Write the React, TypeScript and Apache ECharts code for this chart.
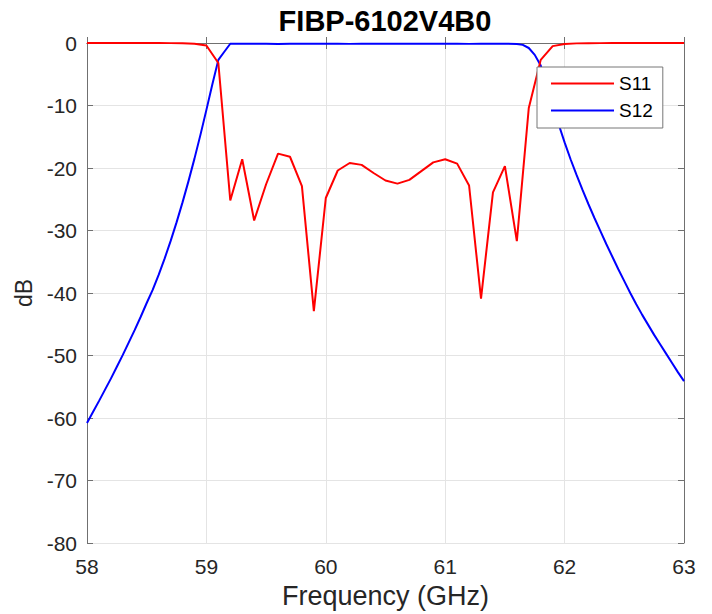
import React, { useEffect, useRef } from "react";
import * as echarts from "echarts";

// S11 sampled every 0.1 GHz
const s11Freq = [
  58.0, 58.1, 58.2, 58.3, 58.4, 58.5, 58.6, 58.7, 58.8, 58.9,
  59.0, 59.1, 59.2, 59.3, 59.4, 59.5, 59.6, 59.7, 59.8, 59.9,
  60.0, 60.1, 60.2, 60.3, 60.4, 60.5, 60.6, 60.7, 60.8, 60.9,
  61.0, 61.1, 61.2, 61.3, 61.4, 61.5, 61.6, 61.7, 61.8, 61.9,
  62.0, 62.1, 62.2, 62.3, 62.4, 62.5, 62.6, 62.7, 62.8, 62.9, 63.0,
];

const s11 = [
  0, 0, 0, 0, 0, 0, -0.01, -0.02, -0.05, -0.12,
  -0.4, -3.2, -25.2, -18.6, -28.4, -22.6, -17.7, -18.2, -22.9, -42.9,
  -24.8, -20.4, -19.2, -19.5, -20.8, -22.0, -22.5, -21.9, -20.5, -19.1,
  -18.6, -19.3, -22.8, -40.9, -23.9, -19.7, -31.7, -10.4, -2.7, -0.5,
  -0.15, -0.06, -0.03, -0.02, -0.01, 0, 0, 0, 0, 0, 0,
];

// S12 sampled more finely on the skirts
const s12Freq = [
  58.0, 58.05, 58.1, 58.15, 58.2, 58.25, 58.3, 58.35, 58.4, 58.45,
  58.5, 58.55, 58.6, 58.65, 58.7, 58.75, 58.8, 58.85, 58.9, 58.95,
  59.0, 59.05, 59.1, 59.15, 59.2,
  59.3, 59.4, 59.5, 59.6, 59.7, 59.8, 59.9, 60.0, 60.1, 60.2, 60.3, 60.4,
  60.5, 60.6, 60.7, 60.8, 60.9, 61.0, 61.1, 61.2, 61.3, 61.4, 61.5, 61.6,
  61.65, 61.7, 61.75, 61.8, 61.85, 61.9, 61.95, 62.0, 62.05, 62.1,
  62.15, 62.2, 62.25, 62.3, 62.35, 62.4, 62.45, 62.5, 62.55, 62.6,
  62.65, 62.7, 62.75, 62.8, 62.85, 62.9, 62.95, 63.0,
];

const s12 = [
  -60.8, -59.05, -57.3, -55.5, -53.7, -51.8, -49.9, -47.9, -45.9, -43.8,
  -41.6, -39.5, -37.1, -34.5, -31.7, -28.7, -25.5, -22.1, -18.5, -14.7,
  -10.7, -6.6, -2.7, -1.4, -0.12,
  -0.12, -0.1, -0.12, -0.15, -0.12, -0.1, -0.12, -0.1, -0.12, -0.14, -0.12, -0.1,
  -0.12, -0.13, -0.12, -0.1, -0.12, -0.1, -0.12, -0.14, -0.12, -0.1, -0.1, -0.15,
  -0.3, -0.8, -1.9, -3.6, -6.8, -10.0, -13.0, -15.9, -18.6, -21.1,
  -23.5, -25.8, -28.0, -30.1, -32.2, -34.2, -36.2, -38.1, -40.0, -41.8,
  -43.5, -45.1, -46.7, -48.2, -49.7, -51.2, -52.7, -54.1,
];

const seriesNames = ["S11", "S12"];
const titleText = "FIBP-6102V4B0";
const xName = "Frequency (GHz)";
const yName = "dB";

const FONT = "'Liberation Sans', Arial, Helvetica, sans-serif";

export default function App() {
  const ref = useRef<HTMLDivElement>(null);

  useEffect(() => {
    if (!ref.current) return;
    const chart = echarts.init(ref.current, undefined, { renderer: "svg" });
    const axisColor = "#707070";
    const gridColor = "#e4e4e4";
    const labelColor = "#262626";

    const option: any = {
      animation: false,
      backgroundColor: "#ffffff",
      textStyle: { fontFamily: FONT },
      graphic: [
        {
          type: "text",
          x: 385,
          y: 6,
          style: {
            text: titleText,
            font: `bold 29px ${FONT}`,
            fill: "#000000",
            textAlign: "center",
            textVerticalAlign: "top",
          },
        },
      ],
      grid: { left: 87, right: 28, top: 43, bottom: 70, containLabel: false },
      legend: {
        data: seriesNames,
        orient: "vertical",
        left: 537,
        top: 67,
        backgroundColor: "#ffffff",
        borderColor: "#777777",
        borderWidth: 1,
        borderRadius: 0,
        padding: [7, 10, 8, 13],
        itemWidth: 63,
        itemHeight: 14,
        itemGap: 8,
        itemStyle: { opacity: 0 },
        textStyle: { fontSize: 19, color: "#000000", fontFamily: FONT },
      },
      xAxis: [
        {
          type: "value",
          min: 58,
          max: 63,
          interval: 1,
          position: "bottom",
          name: xName,
          nameLocation: "middle",
          nameGap: 39,
          nameTextStyle: { fontSize: 27, color: labelColor, fontFamily: FONT },
          axisLine: { show: true, lineStyle: { color: axisColor, width: 1 } },
          axisTick: { show: true, inside: true, length: 6, lineStyle: { color: axisColor } },
          axisLabel: { fontSize: 21, color: labelColor, margin: 13, fontFamily: FONT },
          splitLine: { show: true, lineStyle: { color: gridColor, width: 1 } },
        },
        {
          type: "value",
          min: 58,
          max: 63,
          interval: 1,
          position: "top",
          axisLine: { show: true, lineStyle: { color: axisColor, width: 1 } },
          axisTick: { show: true, inside: true, length: 6, lineStyle: { color: axisColor } },
          axisLabel: { show: false },
          splitLine: { show: false },
        },
      ],
      yAxis: [
        {
          type: "value",
          min: -80,
          max: 0,
          interval: 10,
          position: "left",
          name: yName,
          nameLocation: "middle",
          nameGap: 50,
          nameTextStyle: { fontSize: 23, color: labelColor, fontFamily: FONT },
          axisLine: { show: true, lineStyle: { color: axisColor, width: 1 } },
          axisTick: { show: true, inside: true, length: 6, lineStyle: { color: axisColor } },
          axisLabel: { fontSize: 21, color: labelColor, margin: 10, fontFamily: FONT },
          splitLine: { show: true, lineStyle: { color: gridColor, width: 1 } },
        },
        {
          type: "value",
          min: -80,
          max: 0,
          interval: 10,
          position: "right",
          axisLine: { show: true, lineStyle: { color: axisColor, width: 1 } },
          axisTick: { show: true, inside: true, length: 6, lineStyle: { color: axisColor } },
          axisLabel: { show: false },
          splitLine: { show: false },
        },
      ],
      series: [
        {
          name: seriesNames[0],
          type: "line",
          xAxisIndex: 0,
          yAxisIndex: 0,
          symbol: "none",
          color: "#ff0000",
          lineStyle: { color: "#ff0000", width: 2 },
          data: s11Freq.map((f, i) => [f, s11[i]]),
          z: 3,
        },
        {
          name: seriesNames[1],
          type: "line",
          xAxisIndex: 0,
          yAxisIndex: 0,
          symbol: "none",
          color: "#0000ff",
          lineStyle: { color: "#0000ff", width: 2 },
          data: s12Freq.map((f, i) => [f, s12[i]]),
          z: 2,
        },
      ],
    };
    chart.setOption(option);
    return () => chart.dispose();
  }, []);

  return (
    <div
      ref={ref}
      style={{ position: "absolute", left: 0, top: 0, width: 712, height: 614 }}
    />
  );
}
